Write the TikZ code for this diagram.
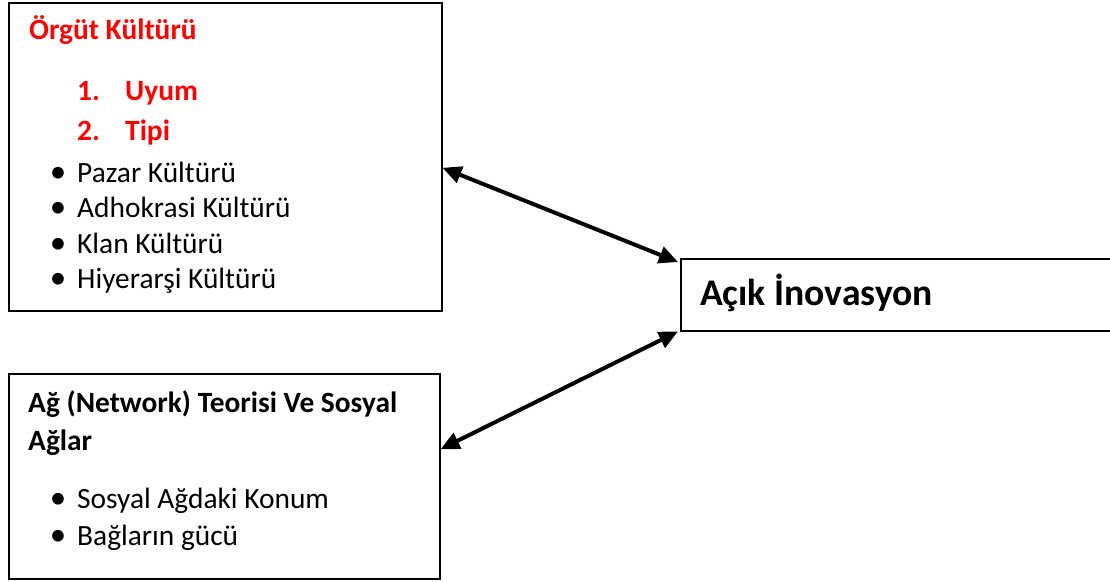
\documentclass[tikz,border=0pt]{standalone}
\usepackage{fontspec}
\setmainfont{Carlito}
\usepackage{tikz}
\usetikzlibrary{arrows.meta, positioning}

\tikzset{
  panel/.style={draw, line width=1.5pt, rectangle, inner sep=0pt, anchor=north west},
  txt/.style={anchor=base west, inner sep=0pt, font=\fontsize{29.4}{35}\selectfont},
  head/.style={txt, font=\fontsize{29.4}{35}\selectfont\bfseries},
  dot/.style={anchor=base, inner sep=0pt, font=\fontsize{33}{35}\selectfont},
  link/.style={line width=4pt, {Triangle[length=19pt,width=17pt]}-{Triangle[length=19pt,width=17pt]}},
}

\begin{document}
\begin{tikzpicture}[x=1pt, y=-1pt]
  \useasboundingbox (0,0) rectangle (1110,581);

  % boxes
  \node[panel, minimum width=433pt, minimum height=308pt] (kultur) at (8,2) {};
  \node[panel, minimum width=432pt, minimum height=72pt] (acik) at (680,258) {};
  \node[panel, minimum width=431pt, minimum height=205pt] (ag) at (8,373) {};

  % orgut kulturu
  \node[head, text=red] (k0) at (29,39) {Örgüt Kültürü};
  \node[head, text=red] (n1) at (77,100) {1.};
  \node[head, text=red] (k1) at (125,100) {Uyum};
  \node[head, text=red] (n2) at (77,140) {2.};
  \node[head, text=red] (k2) at (125,140) {Tipi};
  \foreach \y/\t [count=\i] in {182/Pazar Kültürü, 217/Adhokrasi Kültürü,
                                253/Klan Kültürü, 288/Hiyerarşi Kültürü} {
    \node[dot] (kb\i) at (58,\y) {•};
    \node[txt] (kt\i) at (77,\y) {\t};
  }

  % acik inovasyon
  \node[txt, font=\fontsize{37.6}{44}\selectfont\bfseries] (a0) at (700,305) {Açık İnovasyon};

  % ag teorisi
  \node[head] (g0) at (28,412) {Ağ (Network) Teorisi Ve Sosyal};
  \node[head] (g1) at (28,450) {Ağlar};
  \foreach \y/\t [count=\i] in {508/Sosyal Ağdaki Konum, 545/Bağların gücü} {
    \node[dot] (gb\i) at (58,\y) {•};
    \node[txt] (gt\i) at (77,\y) {\t};
  }

  % arrows
  \draw[link] ([yshift=-11pt]kultur.east) -- ([xshift=-2pt,yshift=-4pt]acik.north west);
  \draw[link] ([yshift=27pt]ag.east) -- ([xshift=-2pt]acik.south west);
\end{tikzpicture}
\end{document}
